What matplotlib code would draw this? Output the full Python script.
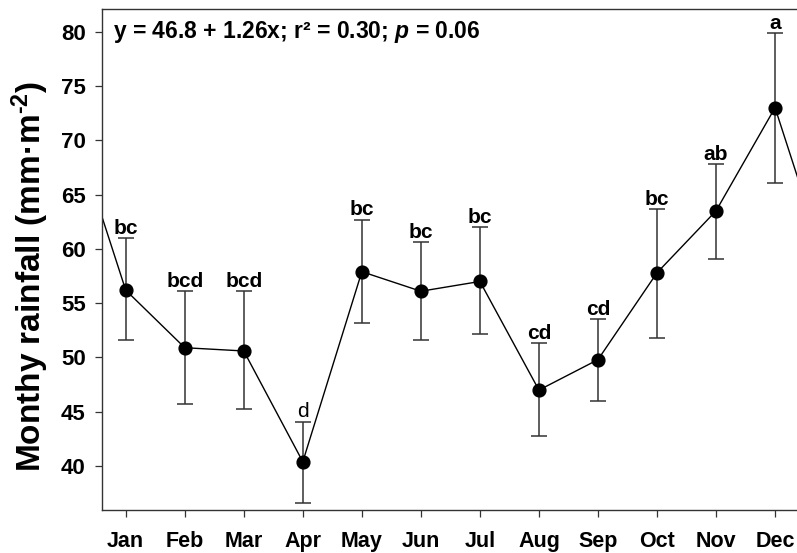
import numpy as np
import matplotlib
matplotlib.use("Agg")
from matplotlib import pyplot as plt

plt.rcParams['font.family'] = ['Liberation Sans', 'DejaVu Sans']
plt.rcParams['font.weight'] = 'bold'
plt.rcParams['mathtext.fontset'] = 'custom'
plt.rcParams['mathtext.rm'] = 'Liberation Sans:bold'
plt.rcParams['mathtext.bf'] = 'Liberation Sans:bold'
plt.rcParams['mathtext.it'] = 'Liberation Sans:bold:italic'

# monthly means with error bar limits
months = ["Jan", "Feb", "Mar", "Apr", "May", "Jun",
          "Jul", "Aug", "Sep", "Oct", "Nov", "Dec"]
rain = [56.2, 50.9, 50.6, 40.4, 57.9, 56.1, 57.0, 47.0, 49.8, 57.8, 63.5, 73.0]
upper = [61.0, 56.1, 56.1, 44.1, 62.7, 60.6, 62.0, 51.3, 53.5, 63.7, 67.8, 79.9]
lower = [51.6, 45.7, 45.3, 36.6, 53.2, 51.6, 52.2, 42.8, 46.0, 51.8, 59.1, 66.1]
letters = ["bc", "bcd", "bcd", "d", "bc", "bc", "bc", "cd", "cd", "bc", "ab", "a"]

x = np.arange(1, 13)
rain = np.array(rain)
err = [rain - np.array(lower), np.array(upper) - rain]

fig = plt.figure(figsize=(7.97, 5.53), dpi=100)
ax = fig.add_axes([0.1284, 0.0778, 0.8734, 0.906])

# the year wraps round: Dec before Jan and Jan after Dec, cut off by the axes
xw = np.arange(0, 14)
yw = np.concatenate([[rain[-1]], rain, [rain[0]]])
ax.plot(xw, yw, color='black', lw=1.0, zorder=2)

ax.errorbar(x, rain, yerr=err, fmt='none', ecolor='#333333',
            elinewidth=1.1, capsize=5.5, capthick=1.1, zorder=1)
ax.plot(x, rain, 'o', color='black', ms=9.2, zorder=3)

for xi, top, lab in zip(x, upper, letters):
    ax.annotate(lab, (xi, top), xytext=(0, 3), textcoords='offset points',
                ha='center', va='baseline', fontsize=15,
                fontweight='normal' if lab == 'd' else 'bold')

ax.text(0.0154, 0.942, "y = 46.8 + 1.26x; r² = 0.30; $p$ = 0.06",
        transform=ax.transAxes, ha='left', va='baseline', fontsize=16.5,
        fontweight='bold')

ax.set_xlim(0.604, 12.396)
ax.set_ylim(35.96, 82.09)
ax.set_xticks(x)
ax.set_xticklabels(months, fontsize=15.5, fontweight='bold')
ax.set_yticks(np.arange(40, 81, 5))
ax.tick_params(axis='y', labelsize=16, pad=7)
ax.tick_params(axis='x', pad=10)
ax.tick_params(direction='out', length=5, width=0.9, color='#333333')
for lab in ax.get_yticklabels():
    lab.set_fontweight('bold')
for sp in ax.spines.values():
    sp.set_color('#333333')
    sp.set_linewidth(1.0)

# y label with a small raised "-2" (hyphen, not a long minus)
fig.text(0.0376, 0.5, "Monthy rainfall (mm·m$^{\\mathbf{\u2010}2}$)", rotation=90,
         ha='center', va='center', fontsize=24, fontweight='bold')

fig.savefig("out.png", dpi=100)
